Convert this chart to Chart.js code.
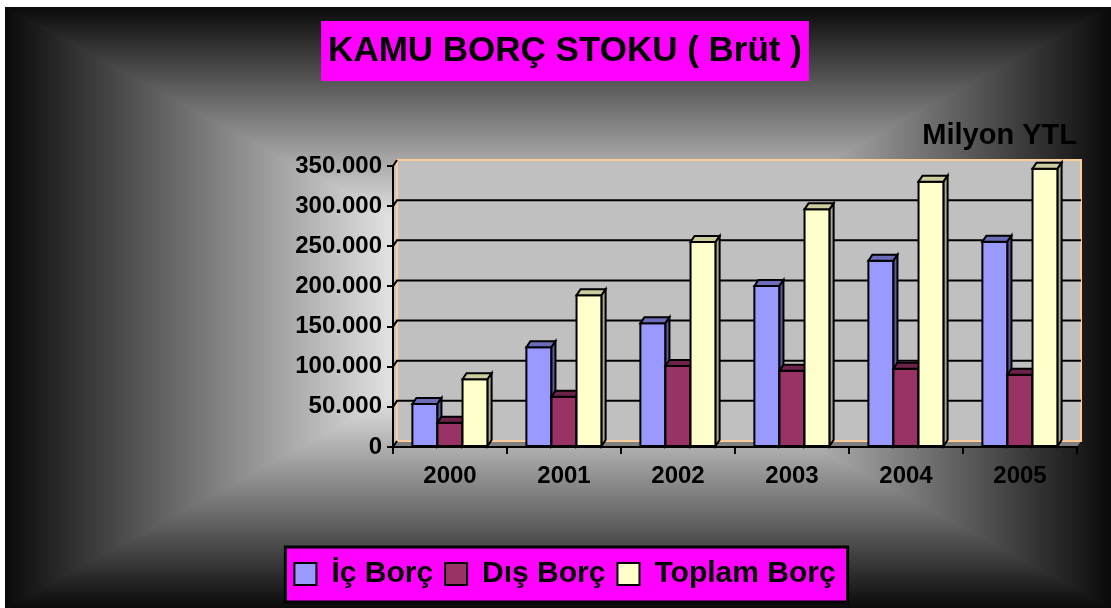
<!DOCTYPE html>
<html>
<head>
<meta charset="utf-8">
<script src="https://cdn.jsdelivr.net/npm/chart.js@4.4.1/dist/chart.umd.min.js"></script>
<style>
  html, body { margin: 0; padding: 0; background: #fff; }
  #wrap { width: 1111px; height: 608px; }
</style>
</head>
<body>
<div id="wrap"><canvas id="borcChart"></canvas></div>
<script>
// Datos (millones de YTL)
const years = ['2000', '2001', '2002', '2003', '2004', '2005'];
const icBorc = [53600, 124200, 154000, 200600, 232000, 255800];
const disBorc = [30300, 62700, 100900, 95000, 97600, 90000];
const toplamBorc = [84300, 189000, 255400, 296000, 330500, 346700];
const seriesNames = ['İç Borç', 'Dış Borç', 'Toplam Borç'];
const yTickLabels = ['0', '50.000', '100.000', '150.000', '200.000', '250.000', '300.000', '350.000'];

// Colores: frente, tapa y lateral de cada serie
const frontColors = ['#9999ff', '#993366', '#ffffcc'];
const topColors = ['#6b6bb8', '#6e2249', '#cccc9e'];
const sideColors = ['#5a5a9c', '#5c1c3d', '#a8a888'];

const DX = 4, DY = -6;   // profundidad del efecto 3D
const FONT = '"Liberation Sans", Arial, sans-serif';

// Fondo con degradado rectangular, paredes del gráfico y cajas magenta
const fondoPlugin = {
    id: 'fondo',
    beforeDraw(chart) {
        const ctx = chart.ctx;
        const W = chart.width, H = chart.height;
        const x0 = 5, y0 = 7, x1 = W, y1 = H;
        const cx = (x0 + x1) / 2, cy = (y0 + y1) / 2;
        ctx.save();
        ctx.fillStyle = '#fff';
        ctx.fillRect(0, 0, W, H);

        const tri = (pts, gx0, gy0, gx1, gy1) => {
            const g = ctx.createLinearGradient(gx0, gy0, gx1, gy1);
            g.addColorStop(0, '#0a0a0a');
            g.addColorStop(0.7, '#e2e2e2');
            g.addColorStop(1, '#ececec');
            ctx.fillStyle = g;
            ctx.strokeStyle = g;
            ctx.lineWidth = 1.5;
            ctx.beginPath();
            ctx.moveTo(pts[0][0], pts[0][1]);
            pts.slice(1).forEach(p => ctx.lineTo(p[0], p[1]));
            ctx.closePath();
            ctx.fill();
            ctx.stroke();
        };
        ctx.save();
        ctx.beginPath();
        ctx.rect(x0, y0, x1 - x0, y1 - y0);
        ctx.clip();
        tri([[x0, y0], [x1, y0], [cx, cy]], cx, y0, cx, cy);
        tri([[x0, y1], [x1, y1], [cx, cy]], cx, y1, cx, cy);
        tri([[x0, y0], [x0, y1], [cx, cy]], x0, cy, cx, cy);
        tri([[x1, y0], [x1, y1], [cx, cy]], x1, cy, cx, cy);
        ctx.restore();

        // Paredes
        const a = chart.chartArea;
        const yScale = chart.scales.y;
        ctx.lineWidth = 2;
        // pared izquierda
        ctx.fillStyle = '#c4c4c4';
        ctx.beginPath();
        ctx.moveTo(a.left, a.top);
        ctx.lineTo(a.left + DX, a.top + DY);
        ctx.lineTo(a.left + DX, a.bottom + DY);
        ctx.lineTo(a.left, a.bottom);
        ctx.closePath();
        ctx.fill();
        // pared del fondo
        ctx.fillStyle = '#c0c0c0';
        ctx.fillRect(a.left + DX, a.top + DY, a.right - a.left, a.bottom - a.top);
        // suelo
        ctx.fillStyle = '#7f7f7f';
        ctx.beginPath();
        ctx.moveTo(a.left, a.bottom);
        ctx.lineTo(a.left + DX, a.bottom + DY);
        ctx.lineTo(a.right + DX, a.bottom + DY);
        ctx.lineTo(a.right, a.bottom);
        ctx.closePath();
        ctx.fill();
        // bordes naranjas
        ctx.strokeStyle = '#ffcc99';
        ctx.strokeRect(a.left + DX, a.top + DY, a.right - a.left, a.bottom - a.top);
        ctx.beginPath();
        ctx.moveTo(a.left, a.top);
        ctx.lineTo(a.left + DX, a.top + DY);
        ctx.stroke();
        // líneas de cuadrícula en la pared del fondo
        ctx.strokeStyle = '#000';
        yScale.ticks.forEach(t => {
            const y = yScale.getPixelForValue(t.value);
            ctx.beginPath();
            ctx.moveTo(a.left, y);
            ctx.lineTo(a.left + DX, y + DY);
            if (t.value > 0 && t.value < yScale.max) {
                ctx.lineTo(a.right + DX, y + DY);
            }
            ctx.stroke();
        });

        // caja del título
        const tb = chart.titleBlock;
        const tf = chart.options.plugins.title.font;
        ctx.font = 'bold ' + tf.size + 'px ' + FONT;
        const tw = ctx.measureText(chart.options.plugins.title.text).width;
        const tcx = (tb.left + tb.right) / 2;
        const tcy = tb.top + 30 + tf.size * 1.2 / 2;
        ctx.fillStyle = '#ff00ff';
        ctx.fillRect(tcx - tw / 2 - 7, tcy - 30, tw + 14, 60);

        // caja de la leyenda
        const hb = chart.legend.legendHitBoxes;
        if (hb && hb.length) {
            const first = hb[0], last = hb[hb.length - 1];
            const lx = first.left - 9, rx = last.left + last.width + 12;
            const mid = first.top + first.height / 2;
            ctx.fillStyle = '#ff00ff';
            ctx.fillRect(lx, mid - 27, rx - lx, 55);
            ctx.strokeStyle = '#000';
            ctx.lineWidth = 3;
            ctx.strokeRect(lx, mid - 27, rx - lx, 55);
        }
        ctx.restore();
    }
};

// Barras en 3D: se redibujan por categoría para que el orden de solapamiento sea correcto
const barras3dPlugin = {
    id: 'barras3d',
    afterDatasetsDraw(chart) {
        const ctx = chart.ctx;
        ctx.save();
        ctx.lineWidth = 2;
        ctx.lineJoin = 'miter';
        ctx.strokeStyle = '#000';
        const poly = (pts, fill) => {
            ctx.beginPath();
            ctx.moveTo(pts[0][0], pts[0][1]);
            pts.slice(1).forEach(p => ctx.lineTo(p[0], p[1]));
            ctx.closePath();
            ctx.fillStyle = fill;
            ctx.fill();
            ctx.stroke();
        };
        chart.data.labels.forEach((_, i) => {
            chart.data.datasets.forEach((ds, di) => {
                const bar = chart.getDatasetMeta(di).data[i];
                const {x, y, base, width} = bar.getProps(['x', 'y', 'base', 'width'], true);
                const l = x - width / 2, r = x + width / 2;
                poly([[l, y], [r, y], [r, base], [l, base]], frontColors[di]);
                poly([[l, y], [l + DX, y + DY], [r + DX, y + DY], [r, y]], topColors[di]);
                poly([[r, y], [r + DX, y + DY], [r + DX, base + DY], [r, base]], sideColors[di]);
            });
        });
        ctx.restore();
    }
};

const ctx = document.getElementById('borcChart').getContext('2d');
new Chart(ctx, {
    type: 'bar',
    data: {
        labels: years,
        datasets: [icBorc, disBorc, toplamBorc].map((serie, i) => ({
            label: seriesNames[i],
            data: serie,
            backgroundColor: frontColors[i],
            borderColor: '#000',
            borderWidth: 2,
            categoryPercentage: 0.66,
            barPercentage: 1.0
        }))
    },
    options: {
        responsive: true,
        maintainAspectRatio: false,
        animation: false,
        devicePixelRatio: 1,
        layout: { padding: { left: 53, right: 34, top: 0, bottom: 9 } },
        plugins: {
            title: {
                display: true,
                text: 'KAMU BORÇ STOKU ( Brüt )',
                color: '#000',
                font: { family: FONT, size: 35, weight: 'bold', lineHeight: 1.2 },
                padding: { top: 30, bottom: 10 }
            },
            subtitle: {
                display: true,
                text: 'Milyon YTL',
                align: 'end',
                color: '#000',
                font: { family: FONT, size: 29, weight: 'bold', lineHeight: 1.2 },
                padding: { top: 36.6, bottom: 12.6 }
            },
            legend: {
                position: 'bottom',
                labels: {
                    color: '#000',
                    font: { family: FONT, size: 30, weight: 'bold' },
                    boxWidth: 22,
                    boxHeight: 22,
                    padding: 12
                }
            },
            tooltip: { enabled: false }
        },
        scales: {
            x: {
                grid: {
                    display: true,
                    drawOnChartArea: false,
                    drawTicks: true,
                    tickLength: 7,
                    color: '#000',
                    lineWidth: 2
                },
                border: { display: true, color: '#000', width: 2 },
                ticks: {
                    color: '#000',
                    font: { family: FONT, size: 24, weight: 'bold' },
                    padding: 8
                },
                afterFit(scale) { scale.height = 100; }
            },
            y: {
                min: 0,
                max: 350000,
                grid: {
                    display: true,
                    drawOnChartArea: false,
                    drawTicks: true,
                    tickLength: 6,
                    color: '#000',
                    lineWidth: 2
                },
                border: { display: true, color: '#000', width: 2 },
                ticks: {
                    stepSize: 50000,
                    color: '#000',
                    font: { family: FONT, size: 24, weight: 'bold' },
                    padding: 5,
                    callback: (value, index) => yTickLabels[index]
                },
                afterFit(scale) { scale.width = 340; }
            }
        }
    },
    plugins: [fondoPlugin, barras3dPlugin]
});
</script>
</body>
</html>
